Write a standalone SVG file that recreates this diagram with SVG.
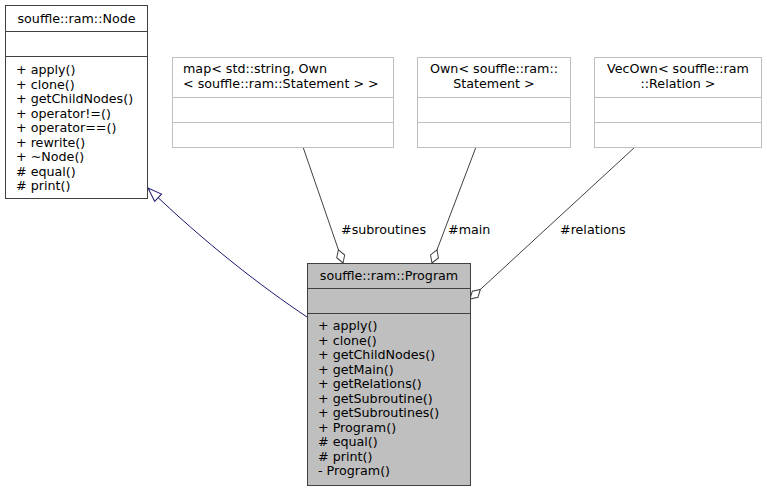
<svg xmlns="http://www.w3.org/2000/svg" width="767" height="492" viewBox="0 0 767 492">
<style>
text{font-family:"DejaVu Sans","Liberation Sans",sans-serif;font-size:12.7px;fill:#000}
.c{text-anchor:middle}
.main{fill:#bfbfbf;stroke:#404040;stroke-width:1}
.base{fill:#fff;stroke:#404040;stroke-width:1}
.dep{fill:#fff;stroke:#bfbfbf;stroke-width:1}
.sepd{stroke:#404040;stroke-width:1}
.sepl{stroke:#bfbfbf;stroke-width:1}
.agg{fill:none;stroke:#404040;stroke-width:1;marker-end:url(#diamond)}
.inh{fill:none;stroke:#191970;stroke-width:1;marker-end:url(#tri)}
</style>
<defs>
<marker id="diamond" markerUnits="userSpaceOnUse" markerWidth="16" markerHeight="12" viewBox="-1 -6 16 12" refX="14" refY="0" orient="auto">
<path d="M0,0 L7,-4.2 L14,0 L7,4.2 Z" fill="#fff" stroke="#404040" stroke-width="1"/>
</marker>
<marker id="tri" markerUnits="userSpaceOnUse" markerWidth="16" markerHeight="14" viewBox="-1 -7 16 14" refX="14" refY="0" orient="auto">
<path d="M0,-5 L14,0 L0,5 Z" fill="#fff" stroke="#191970" stroke-width="1"/>
</marker>
</defs>
<rect width="767" height="492" fill="#fff"/>
<g id="edges">
<path class="inh" d="M307,317 C262,287 205,243 148,188"/>
<path class="agg" d="M303,147 L343,263"/>
<text x="341" y="234">#subroutines</text>
<path class="agg" d="M476,147 L432,263"/>
<text x="448" y="234">#main</text>
<path class="agg" d="M635,147 L470,299"/>
<text x="560" y="234">#relations</text>
</g>
<g id="node_Node">
<rect class="base" x="5.5" y="5.5" width="142" height="193"/>
<line class="sepd" x1="5.5" y1="31.5" x2="147.5" y2="31.5"/>
<line class="sepd" x1="5.5" y1="56.5" x2="147.5" y2="56.5"/>
<text class="c" x="76.5" y="23">souffle::ram::Node</text>
<text x="16" y="74">+ apply()</text>
<text x="16" y="88.5">+ clone()</text>
<text x="16" y="103">+ getChildNodes()</text>
<text x="16" y="117.5">+ operator!=()</text>
<text x="16" y="132">+ operator==()</text>
<text x="16" y="146.5">+ rewrite()</text>
<text x="16" y="161">+ ~Node()</text>
<text x="16" y="175.5"># equal()</text>
<text x="16" y="190"># print()</text>
</g>
<g id="node_map">
<rect class="dep" x="172.5" y="57.5" width="221" height="90"/>
<line class="sepl" x1="172.5" y1="97.5" x2="393.5" y2="97.5"/>
<line class="sepl" x1="172.5" y1="122.5" x2="393.5" y2="122.5"/>
<text x="183" y="73">map&lt; std::string, Own</text>
<text x="183" y="87.5">&lt; souffle::ram::Statement &gt; &gt;</text>
</g>
<g id="node_own">
<rect class="dep" x="417.5" y="57.5" width="153" height="90"/>
<line class="sepl" x1="417.5" y1="97.5" x2="570.5" y2="97.5"/>
<line class="sepl" x1="417.5" y1="122.5" x2="570.5" y2="122.5"/>
<text class="c" x="494" y="73">Own&lt; souffle::ram::</text>
<text class="c" x="494" y="87.5">Statement &gt;</text>
</g>
<g id="node_vecown">
<rect class="dep" x="594.5" y="57.5" width="167" height="90"/>
<line class="sepl" x1="594.5" y1="97.5" x2="761.5" y2="97.5"/>
<line class="sepl" x1="594.5" y1="122.5" x2="761.5" y2="122.5"/>
<text class="c" x="678" y="73">VecOwn&lt; souffle::ram</text>
<text class="c" x="678" y="87.5">::Relation &gt;</text>
</g>
<g id="node_Program">
<rect class="main" x="307.5" y="263.5" width="163" height="222"/>
<line class="sepd" x1="307.5" y1="288.5" x2="470.5" y2="288.5"/>
<line class="sepd" x1="307.5" y1="313.5" x2="470.5" y2="313.5"/>
<text class="c" x="389" y="280">souffle::ram::Program</text>
<text x="318" y="330">+ apply()</text>
<text x="318" y="344.5">+ clone()</text>
<text x="318" y="359">+ getChildNodes()</text>
<text x="318" y="373.5">+ getMain()</text>
<text x="318" y="388">+ getRelations()</text>
<text x="318" y="402.5">+ getSubroutine()</text>
<text x="318" y="417">+ getSubroutines()</text>
<text x="318" y="431.5">+ Program()</text>
<text x="318" y="446"># equal()</text>
<text x="318" y="460.5"># print()</text>
<text x="318" y="475">- Program()</text>
</g>
</svg>
